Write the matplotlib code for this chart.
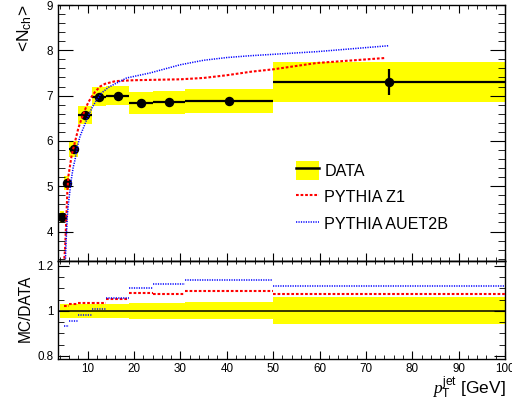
import numpy as np
import matplotlib
matplotlib.use("Agg")
import matplotlib.pyplot as plt
from matplotlib.ticker import MultipleLocator, FuncFormatter
from matplotlib.patches import Patch
from matplotlib.lines import Line2D

plt.rcParams['font.family'] = ['Liberation Sans', 'DejaVu Sans']
plt.rcParams['mathtext.fontset'] = 'custom'
plt.rcParams['mathtext.rm'] = 'Liberation Sans'
plt.rcParams['mathtext.it'] = 'Liberation Serif:italic'
plt.rcParams['mathtext.default'] = 'regular'

# jet pT bins [GeV]
bin_edges = [4, 5, 6, 8, 11, 14, 19, 24, 31, 50, 100]
# measured mean charged multiplicity
data_nch = [4.32, 5.07, 5.82, 6.57, 6.98, 7.00, 6.83, 6.85, 6.88, 7.30]
data_stat = [0.02, 0.02, 0.02, 0.02, 0.02, 0.02, 0.03, 0.04, 0.07, 0.28]
data_rel_syst = [0.030, 0.030, 0.031, 0.031, 0.031, 0.031, 0.035, 0.036, 0.038, 0.060]

# PYTHIA Z1 prediction
z1_pt = [4.97, 5.12, 5.33, 5.48, 5.61, 5.83, 6.56, 7.64, 7.99, 8.72, 9.43, 10.14,
         10.88, 11.59, 12.67, 13.74, 16.0, 20.0, 25.0, 30.0, 35.0, 40.0, 45.4,
         50.0, 59.4, 74.1]
z1_nch = [3.40, 3.60, 4.11, 4.48, 4.85, 5.21, 5.69, 6.13, 6.28, 6.50, 6.69, 6.85,
          6.98, 7.08, 7.20, 7.26, 7.32, 7.34, 7.35, 7.36, 7.39, 7.45, 7.53,
          7.58, 7.72, 7.83]
# PYTHIA AUET2B prediction
auet_pt = [5.22, 5.33, 5.48, 5.61, 5.83, 6.20, 6.56, 6.91, 7.27, 7.80, 8.35, 9.06,
           9.80, 10.88, 11.95, 13.03, 14.46, 15.53, 18.42, 23.45, 29.92, 35.0,
           40.0, 45.0, 59.4, 74.8]
auet_nch = [3.40, 3.74, 4.04, 4.33, 4.59, 4.92, 5.21, 5.43, 5.58, 5.88, 6.10, 6.28,
            6.47, 6.72, 6.91, 7.06, 7.18, 7.24, 7.39, 7.50, 7.68, 7.78,
            7.84, 7.88, 7.97, 8.10]

# MC / DATA per bin (first bin below the displayed range)
ratio_z1 = [np.nan, 1.022, 1.030, 1.034, 1.034, 1.051, 1.077, 1.074, 1.088, 1.073]
ratio_auet = [np.nan, 0.933, 0.955, 0.980, 1.010, 1.055, 1.100, 1.119, 1.139, 1.110]

edges = np.array(bin_edges, dtype=float)
lo, hi = edges[:-1], edges[1:]
centers = 0.5 * (lo + hi)
widths = hi - lo
nch = np.array(data_nch)
rel = np.array(data_rel_syst)
syst = rel * nch

YELLOW = '#ffff00'
RED = '#ff0000'
BLUE = '#0000ff'
z1_style = dict(color=RED, lw=1.5, linestyle=(0, (1.3, 0.9)))
auet_style = dict(color=BLUE, lw=1.1, linestyle=(0, (0.8, 0.8)))
TICK_FS = 8.4

W, H = 512, 404
fig = plt.figure(figsize=(W / 100, H / 100), dpi=100)
x0, x1 = 57.5, 505.0
ax1 = fig.add_axes([x0 / W, 1 - 261 / H, (x1 - x0) / W, (261 - 5) / H])
ax2 = fig.add_axes([x0 / W, 1 - 358.7 / H, (x1 - x0) / W, (358.7 - 261) / H])

# ---- main panel ----
ax1.bar(centers, 2 * syst, bottom=nch - syst, width=widths, color=YELLOW,
        linewidth=0, zorder=1)
ax1.errorbar(centers, nch, xerr=widths / 2, yerr=data_stat, fmt='o', color='black',
             ms=5.8, elinewidth=1.6, capsize=0, zorder=3)
ax1.plot(z1_pt, z1_nch, zorder=4, **z1_style)
ax1.plot(auet_pt, auet_nch, zorder=4, **auet_style)

ax1.set_xlim(3.5, 100)
ax1.set_ylim(3.35, 9)
ax1.xaxis.set_major_locator(MultipleLocator(10))
ax1.xaxis.set_minor_locator(MultipleLocator(2))
ax1.yaxis.set_major_locator(MultipleLocator(1))
ax1.yaxis.set_minor_locator(MultipleLocator(0.2))
ax1.tick_params(axis='x', which='both', direction='in', top=True, bottom=True,
                labelbottom=False)
ax1.tick_params(axis='x', which='major', length=6)
ax1.tick_params(axis='x', which='minor', length=3)
ax1.tick_params(axis='y', which='both', direction='in', left=True, right=True,
                labelsize=TICK_FS, pad=3)
ax1.tick_params(axis='y', which='major', length=10.5)
ax1.tick_params(axis='y', which='minor', length=5.3)

handles = [(Patch(facecolor=YELLOW, edgecolor='none'),
            Line2D([], [], color='black', lw=1.8)),
           Line2D([], [], **z1_style),
           Line2D([], [], **auet_style)]
labels = ['DATA', 'PYTHIA Z1', 'PYTHIA AUET2B']
ax1.legend(handles, labels, loc='upper left', bbox_to_anchor=(296 / W, 1 - 161 / H),
           bbox_transform=fig.transFigure, frameon=False, fontsize=11.6,
           borderpad=0, handlelength=1.45, handleheight=1.4, handletextpad=0.3,
           labelspacing=0.5, borderaxespad=0)

# ---- ratio panel ----
ax2.bar(centers, 2 * rel, bottom=1 - rel, width=widths, color=YELLOW,
        linewidth=0, zorder=1)
ax2.axhline(1.0, color='black', lw=1.1, zorder=2)
ax2.hlines(ratio_z1, lo, hi, zorder=3, **z1_style)
ax2.hlines(ratio_auet, lo, hi, zorder=3, **auet_style)

ax2.set_xlim(3.5, 100)
ax2.set_ylim(0.788, 1.221)
ax2.xaxis.set_major_locator(MultipleLocator(10))
ax2.xaxis.set_minor_locator(MultipleLocator(2))
ax2.yaxis.set_major_locator(MultipleLocator(0.2))
ax2.yaxis.set_minor_locator(MultipleLocator(0.05))
ax2.yaxis.set_major_formatter(FuncFormatter(lambda v, p: f'{v:g}'))
ax2.tick_params(axis='x', which='both', direction='in', bottom=True, top=False,
                labelsize=TICK_FS, pad=3)
ax2.tick_params(axis='x', which='major', length=6)
ax2.tick_params(axis='x', which='minor', length=3)
ax2.tick_params(axis='y', which='both', direction='in', left=True, right=True,
                labelsize=TICK_FS, pad=3)
ax2.tick_params(axis='y', which='major', length=8)
ax2.tick_params(axis='y', which='minor', length=4)

# short ticks hanging from the top edge of the ratio panel
ax2_top = ax2.secondary_xaxis('top')
ax2_top.xaxis.set_major_locator(MultipleLocator(10))
ax2_top.xaxis.set_minor_locator(MultipleLocator(2))
ax2_top.tick_params(axis='x', which='both', direction='in', labeltop=False)
ax2_top.tick_params(axis='x', which='major', length=3.2)
ax2_top.tick_params(axis='x', which='minor', length=1.8)

for ax in (ax1, ax2):
    for s in ax.spines.values():
        s.set_linewidth(1.0)
ax2_top.spines['top'].set_linewidth(1.0)

# axis titles
fig.text(25 / W, 1 - 5 / H, r'<N$_{\mathrm{ch}}$>', rotation=90, ha='center',
         va='top', fontsize=12.5)
fig.text(25 / W, 1 - 308 / H, 'MC/DATA', rotation=90, ha='center', va='center',
         fontsize=11.2)
fig.text(506 / W, 1 - 394 / H, r'$\mathit{p}_{\mathrm{T}}^{\mathrm{jet}}$ [GeV]',
         ha='right', va='baseline', fontsize=12.5)

fig.savefig('out.png', dpi=100)
